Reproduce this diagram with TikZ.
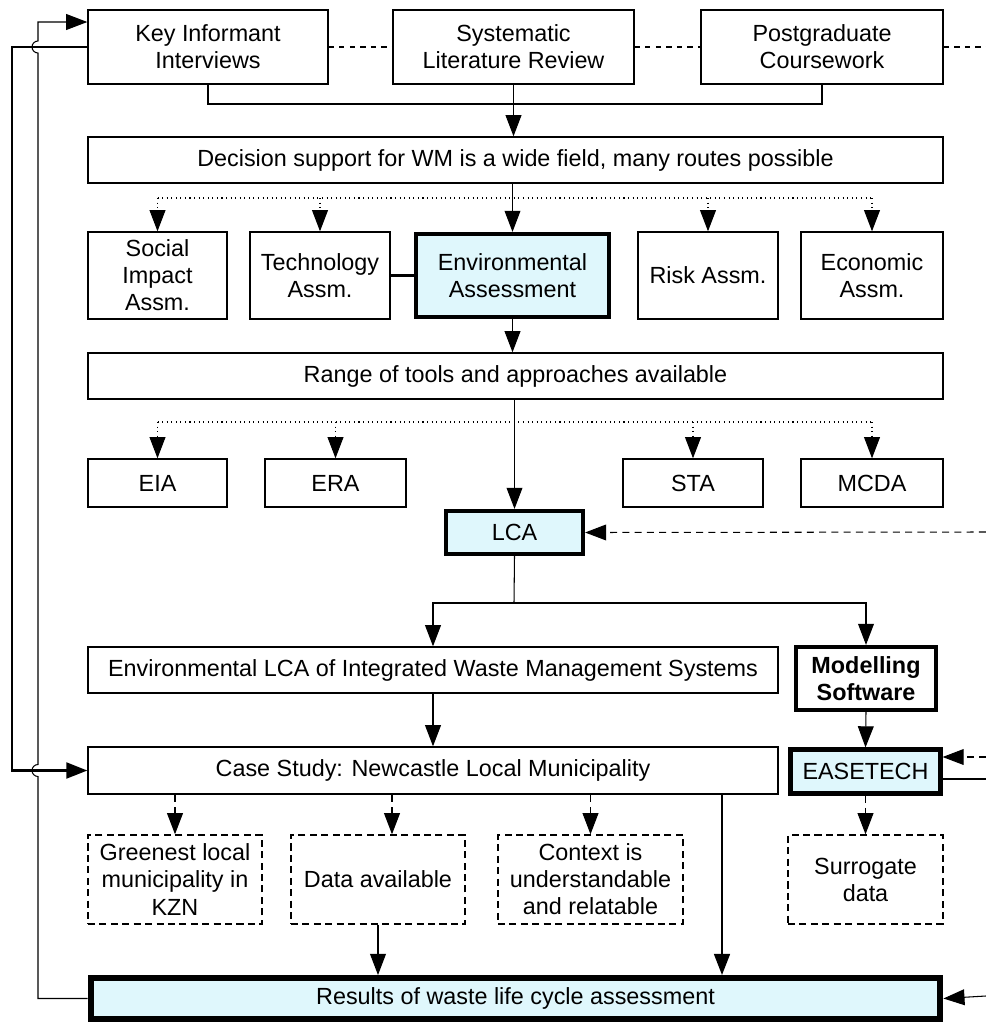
\documentclass[tikz,border=0pt]{standalone}
\usepackage{fontspec}
\setmainfont{Liberation Sans}
\usetikzlibrary{calc}
\usetikzlibrary{arrows.meta}
\definecolor{hlfill}{RGB}{223,247,252}
\tikzset{>={Triangle[length=12pt,width=9pt]}}
\tikzset{box/.style = {draw, line width=0.8pt, align=center, inner sep=0pt, font=\fontsize{13.3}{15.4}\selectfont}}
\tikzset{hlbox/.style = {box, line width=2.4pt, fill=hlfill}}
\tikzset{optbox/.style = {box, dash pattern=on 4pt off 2.5pt}}
\tikzset{edge/.style = {-{Triangle[length=12pt,width=9pt]}, line width=0.6pt}}
\tikzset{dotedge/.style = {edge, dotted}}
\tikzset{dashedge/.style = {edge, dash pattern=on 4pt off 3pt}}
\tikzset{heavy/.style = {line width=1.6pt}}

\begin{document}
\begin{tikzpicture}[x=0.02cm, y=-0.02cm]
    \useasboundingbox (0,0) rectangle (986,1028);

    % Sources
    \node[box, minimum width=4.8cm, minimum height=1.48cm] (ki) at (208,47) {Key Informant\\Interviews};
    \node[box, minimum width=4.82cm, minimum height=1.48cm] (slr) at (513.5,47) {Systematic\\Literature Review};
    \node[box, minimum width=4.84cm, minimum height=1.48cm] (pgc) at (822,47) {Postgraduate\\Coursework};

    % Field
    \node[box, minimum width=17.1cm, minimum height=0.92cm] (dss) at (515.5,160) {Decision support for WM is a wide field, many routes possible};
    \node[box, minimum width=2.78cm, minimum height=1.74cm] (sia) at (157.5,275.5) {Social\\Impact\\Assm.};
    \node[box, minimum width=2.8cm, minimum height=1.74cm] (tec) at (320,275.5) {Technology\\Assm.};
    \node[hlbox, minimum width=3.86cm, minimum height=1.66cm] (env) at (512.5,275.5) {Environmental\\Assessment};
    \node[box, minimum width=2.8cm, minimum height=1.74cm] (risk) at (708,275.5) {Risk Assm.};
    \node[box, minimum width=2.84cm, minimum height=1.74cm] (eco) at (872,275.5) {Economic\\Assm.};

    % Tools
    \node[box, minimum width=17.1cm, minimum height=0.92cm] (range) at (515.5,376) {Range of tools and approaches available};
    \node[box, minimum width=2.78cm, minimum height=0.96cm] (eia) at (157.5,483) {EIA};
    \node[box, minimum width=2.82cm, minimum height=0.96cm] (era) at (335.5,483) {ERA};
    \node[box, minimum width=2.8cm, minimum height=0.96cm] (sta) at (693,483) {STA};
    \node[box, minimum width=2.84cm, minimum height=0.96cm] (mcda) at (872,483) {MCDA};
    \node[hlbox, minimum width=2.74cm, minimum height=0.86cm] (lca) at (514.5,532.5) {LCA};

    % Study
    \node[box, minimum width=13.8cm, minimum height=0.92cm] (elca) at (433,670) {Environmental LCA of Integrated Waste Management Systems};
    \node[box, line width=2.4pt, minimum width=2.8cm, minimum height=1.26cm, font=\fontsize{13.3}{15.4}\selectfont\bfseries] (mod) at (866,678.5) {Modelling\\Software};
    \node[box, minimum width=13.8cm, minimum height=0.94cm] (case) at (433,770.5) {Case Study: Newcastle Local Municipality};
    \node[hlbox, minimum width=3.0cm, minimum height=0.88cm] (ease) at (865.5,771.5) {EASETECH};
    \node[optbox, minimum width=3.48cm, minimum height=1.78cm] (green) at (175,879.5) {Greenest local\\municipality in\\KZN};
    \node[optbox, minimum width=3.48cm, minimum height=1.78cm] (data) at (378,879.5) {Data available};
    \node[optbox, minimum width=3.7cm, minimum height=1.78cm] (ctx) at (590.5,879.5) {Context is\\understandable\\and relatable};
    \node[optbox, minimum width=3.1cm, minimum height=1.78cm] (surr) at (865.5,879.5) {Surrogate\\data};
    \node[hlbox, line width=3.4pt, minimum width=17.0cm, minimum height=0.82cm] (res) at (515.5,998.5) {Results of waste life cycle assessment};

    % Helper points
    \coordinate (join) at (513,104);
    \coordinate (fan1) at (0,198);
    \coordinate (fan2) at (0,422);
    \coordinate (split) at (514,603);
    \coordinate (cx) at (722,0);
    \coordinate (dx) at (392,0);
    \coordinate (r0) at (986,47);
    \coordinate (r1) at (986,532);
    \coordinate (r2) at (986,757);
    \coordinate (r3) at (986,779);
    \coordinate (r4) at (986,996);

    % Edges
    % sources
    \draw[dashed, line width=0.6pt] (ki.east) -- (slr.west);
    \draw[dashed, line width=0.6pt] (slr.east) -- (pgc.west);
    \draw[dashed, line width=0.6pt] (pgc.east) -- (r0);
    \draw[line width=0.6pt] (ki.south) |- (join) -| (pgc.south);
    \draw[edge] (slr.south) -- (slr.south |- dss.north);

    % field
    \draw[dotted, line width=0.6pt] (sia.north |- fan1) -- (eco.north |- fan1);
    \draw[dotedge] (sia.north |- fan1) -- (sia.north);
    \draw[dotedge] (tec.north |- fan1) -- (tec.north);
    \draw[dotedge] (risk.north |- fan1) -- (risk.north);
    \draw[dotedge] (eco.north |- fan1) -- (eco.north);
    \draw[edge] (env.north |- dss.south) -- (env.north);
    \draw[heavy] (tec.east) -- (env.west);
    \draw[edge] (env.south) -- (env.south |- range.north);

    % tools
    \draw[dotted, line width=0.6pt] (eia.north |- fan2) -- (mcda.north |- fan2);
    \draw[dotedge] (eia.north |- fan2) -- (eia.north);
    \draw[dotedge] (era.north |- fan2) -- (era.north);
    \draw[dotedge] (sta.north |- fan2) -- (sta.north);
    \draw[dotedge] (mcda.north |- fan2) -- (mcda.north);
    \draw[edge] (lca.north |- range.south) -- (lca.north);
    \draw[dashedge] (r1) -- (lca.east);

    % study
    \draw[line width=0.6pt] (lca.south) -- (split);
    \draw[edge] (split) -| (elca.north);
    \draw[edge] (split) -| (mod.north);
    \draw[edge] (elca.south) -- (case.north);
    \draw[edge] (mod.south) -- (ease.north);
    \draw[dashedge] (r2) -- (r2 -| ease.east);
    \draw[line width=0.6pt] (r3 -| ease.east) -- (r3);
    \draw[dashedge] (case.south -| green.north) -- (green.north);
    \draw[dashedge] (case.south -| dx) -- (green.north -| dx);
    \draw[dashedge] (case.south -| ctx.north) -- (ctx.north);
    \draw[dashedge] (ease.south) -- (surr.north);
    \draw[edge] (data.south) -- (data.south |- res.north);
    \draw[edge, line width=1.2pt] (case.south -| cx) -- (res.north -| cx);
    \draw[edge] (r4) -- (res.east);

    % feedback
    \draw[edge, heavy] (ki.west) -- (12,47) -- (12,770.5) -- (case.west);
    \draw[edge] (res.west) -- (38,998.5) -- (38,776.5)
        arc[start angle=270, end angle=90, radius=0.12cm] -- (38,53)
        arc[start angle=270, end angle=90, radius=0.12cm] -- (38,22) -- ([yshift=0.5cm]ki.west);
\end{tikzpicture}
\end{document}
